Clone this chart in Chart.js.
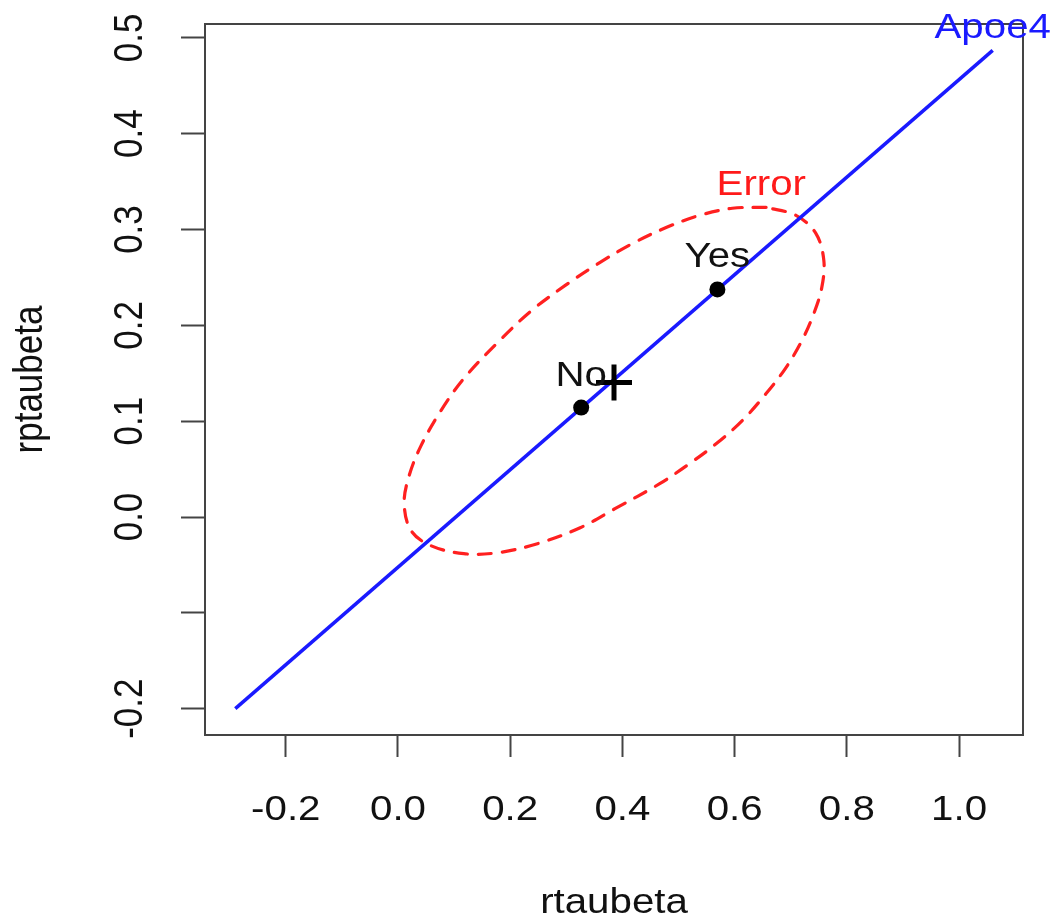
<!DOCTYPE html>
<html>
<head>
<meta charset="utf-8">
<script src="https://cdn.jsdelivr.net/npm/chart.js@4/dist/chart.umd.min.js"></script>
<style>
  body { margin: 0; background: #fff; }
</style>
</head>
<body>
<canvas id="chart" width="1057" height="924"></canvas>
<script>
// eixos
const xTicks = [-0.2, 0.0, 0.2, 0.4, 0.6, 0.8, 1.0];
const xTickLabels = ['-0.2', '0.0', '0.2', '0.4', '0.6', '0.8', '1.0'];
const yTicks = [-0.2, -0.1, 0.0, 0.1, 0.2, 0.3, 0.4, 0.5];
const yTickLabels = ['-0.2', '', '0.0', '0.1', '0.2', '0.3', '0.4', '0.5'];
const xTitle = 'rtaubeta';
const yTitle = 'rptaubeta';

// linha Apoe4
const apoeX = [-0.29, 1.06];
const apoeY = [-0.2, 0.487];

// grupos
const groupNames = ['No', 'Yes'];
const groupX = [0.3265, 0.5693];
const groupY = [0.1142, 0.2375];

// centro (+)
const centerX = [0.385];
const centerY = [0.1403];

// elipse de erro
const errorX = [0.6561, 0.5959, 0.5374, 0.4789, 0.4186, 0.3602, 0.2981, 0.2361, 0.1776, 0.1173,
  0.0766, 0.0411, 0.0199, 0.0110, 0.0234, 0.0588, 0.1173, 0.1776, 0.2485, 0.3247,
  0.3867, 0.4665, 0.5197, 0.5675, 0.6136, 0.6561, 0.6916, 0.7200, 0.7412, 0.7554,
  0.7590, 0.7448, 0.7093, 0.6561];
const errorY = [0.3232, 0.3222, 0.3148, 0.3023, 0.2856, 0.2657, 0.2417, 0.2145, 0.1821, 0.1445,
  0.1111, 0.0745, 0.0432, 0.0139, -0.0143, -0.0300, -0.0383, -0.0373, -0.0279, -0.0112,
  0.0087, 0.0348, 0.0557, 0.0766, 0.1006, 0.1288, 0.1560, 0.1842, 0.2124, 0.2396,
  0.2678, 0.2960, 0.3148, 0.3232];
const errorLabel = 'Error';
const errorLabelX = 0.6475;
const errorLabelY = 0.3232;
const apoeLabel = 'Apoe4';

const toPts = (xs, ys) => xs.map((v, i) => ({ x: v, y: ys[i] }));

const FONT = '35px "Liberation Sans", Arial, Helvetica, sans-serif';

function put(ctx, text, px, py, color, rotated) {
  ctx.save();
  ctx.translate(px, py);
  ctx.scale(1.15, 1);
  if (rotated) ctx.rotate(-Math.PI / 2);
  ctx.font = FONT;
  ctx.textAlign = 'center';
  ctx.textBaseline = 'alphabetic';
  ctx.fillStyle = color;
  ctx.fillText(text, 0, 0);
  ctx.restore();
}

const rTexts = {
  id: 'rTexts',
  afterDraw(chart) {
    const { ctx, chartArea: a, scales: { x, y } } = chart;
    // caixa do grafico
    ctx.save();
    ctx.strokeStyle = '#444';
    ctx.lineWidth = 2;
    ctx.strokeRect(a.left, a.top, a.right - a.left, a.bottom - a.top);
    ctx.restore();

    xTicks.forEach((v, i) => put(ctx, xTickLabels[i], x.getPixelForValue(v), a.bottom + 85, '#111', false));
    yTicks.forEach((v, i) => put(ctx, yTickLabels[i], a.left - 63, y.getPixelForValue(v), '#111', true));
    put(ctx, xTitle, (a.left + a.right) / 2, a.bottom + 178, '#111', false);
    put(ctx, yTitle, a.left - 163, (a.top + a.bottom) / 2, '#111', true);

    // rotulos
    groupNames.forEach((n, i) => put(ctx, n, x.getPixelForValue(groupX[i]), y.getPixelForValue(groupY[i]) - 22, '#111', false));
    put(ctx, apoeLabel, x.getPixelForValue(apoeX[1]), y.getPixelForValue(apoeY[1]) - 12, '#1a1aff', false);
    put(ctx, errorLabel, x.getPixelForValue(errorLabelX), y.getPixelForValue(errorLabelY) - 12, '#ff1a1a', false);
  }
};

const ctx = document.getElementById('chart').getContext('2d');
new Chart(ctx, {
  type: 'scatter',
  data: {
    datasets: [
      {
        label: 'Grupos',
        data: toPts(groupX, groupY),
        pointRadius: 8,
        pointBackgroundColor: '#000',
        pointBorderWidth: 0,
        showLine: false,
        order: 1
      },
      {
        label: 'Centro',
        data: toPts(centerX, centerY),
        pointStyle: 'cross',
        pointRadius: 18,
        pointBorderColor: '#000',
        pointBorderWidth: 5,
        showLine: false,
        order: 2
      },
      {
        label: 'Apoe4',
        data: toPts(apoeX, apoeY),
        showLine: true,
        borderColor: '#1a1aff',
        borderWidth: 3.5,
        pointRadius: 0,
        order: 3
      },
      {
        label: 'Error',
        data: toPts(errorX, errorY),
        showLine: true,
        borderColor: '#ff2020',
        borderWidth: 3.2,
        borderDash: [13, 11],
        borderCapStyle: 'round',
        tension: 0.35,
        pointRadius: 0,
        order: 4
      }
    ]
  },
  options: {
    responsive: false,
    animation: false,
    events: [],
    layout: { padding: { left: 181, top: 24, right: 34, bottom: 167 } },
    plugins: { legend: { display: false }, tooltip: { enabled: false } },
    scales: {
      x: {
        type: 'linear',
        min: -0.344,
        max: 1.114,
        afterBuildTicks: s => { s.ticks = xTicks.map(v => ({ value: v })); },
        ticks: { display: false },
        border: { display: false },
        grid: { drawOnChartArea: false, drawTicks: true, tickLength: 22, tickColor: '#444', tickWidth: 2 }
      },
      y: {
        type: 'linear',
        min: -0.2275,
        max: 0.5145,
        afterBuildTicks: s => { s.ticks = yTicks.map(v => ({ value: v })); },
        ticks: { display: false },
        border: { display: false },
        grid: { drawOnChartArea: false, drawTicks: true, tickLength: 24, tickColor: '#444', tickWidth: 2 }
      }
    }
  },
  plugins: [rTexts]
});
</script>
</body>
</html>
